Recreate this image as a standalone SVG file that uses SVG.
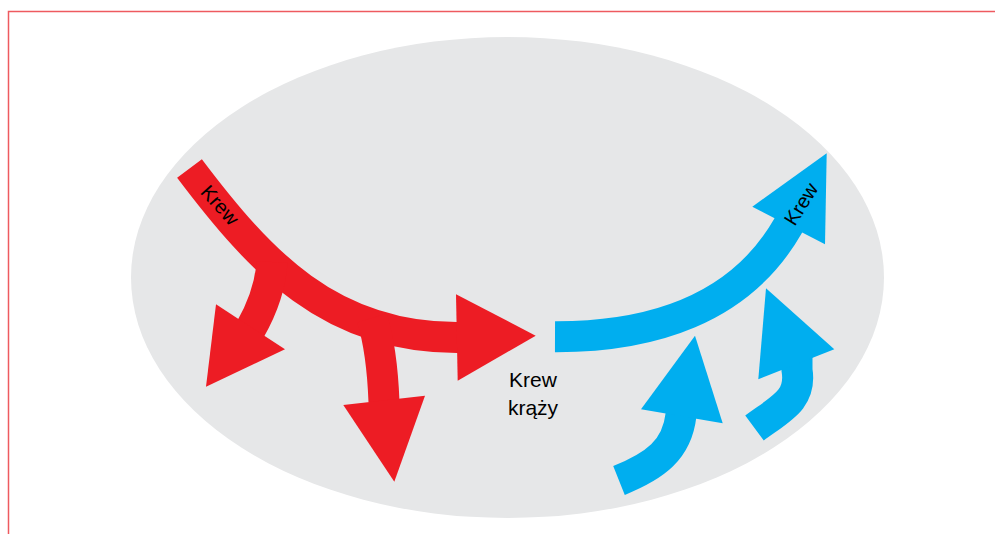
<svg xmlns="http://www.w3.org/2000/svg" width="995" height="534" viewBox="0 0 995 534">
<style>
.red{fill:none;stroke:#ed1c24;stroke-width:31}
.redf{fill:#ed1c24}
.blue{fill:none;stroke:#00aeef;stroke-width:31}
.bluef{fill:#00aeef}
.lbl{font-family:"Liberation Sans",Arial,sans-serif;font-size:20px;fill:#000}
.ctr{font-family:"Liberation Sans",Arial,sans-serif;font-size:21px;fill:#000}
</style>
<rect width="995" height="534" fill="#fff"/>
<path d="M8.5 534 V11.5 H995" fill="none" stroke="#ee5a5f" stroke-width="1.5"/>
<ellipse cx="507.5" cy="277.5" rx="376.5" ry="240.5" fill="#e6e7e8"/>
<g id="red-main">
<path class="red" d="M189.5 168.5 C260 262 330 338 458 337.5"/>
<polygon class="redf" points="456,294.3 535.7,335.7 457.7,380.7"/>
<text class="lbl" transform="translate(220,205) rotate(48)" text-anchor="middle" y="7">Krew</text>
</g>
<g id="red-branch1">
<path class="red" d="M272 262 Q270 295 250 330"/>
<polygon class="redf" points="216,304.3 206,386.7 285,349.3"/>
</g>
<g id="red-branch2">
<path class="red" d="M372 318 Q382 350 384 402"/>
<polygon class="redf" points="343.3,405 394.3,481.7 425,395.7"/>
</g>
<g id="blue-main">
<path class="blue" d="M555 336.7 C650 337 740 310 788 226 L798 208"/>
<polygon class="bluef" points="752.3,206.7 826.7,153.3 825,244.3"/>
<text class="lbl" transform="translate(801,204) rotate(-58)" text-anchor="middle" y="7">Krew</text>
</g>
<g id="blue-arrow1">
<path class="blue" d="M619 480.5 C655 466 677 450 681 415 L682 405"/>
<polygon class="bluef" points="641,409.3 695,335.7 722.7,423.3"/>
</g>
<g id="blue-arrow2">
<path class="blue" d="M754.5 428 C780 409 802 400 797 370 L797 352"/>
<polygon class="bluef" points="758.3,379.3 766,288.3 834.3,349.3"/>
</g>
<g id="label-center">
<text class="ctr" x="533" y="387" text-anchor="middle">Krew</text>
<text class="ctr" x="533" y="415" text-anchor="middle">krąży</text>
</g>
</svg>
